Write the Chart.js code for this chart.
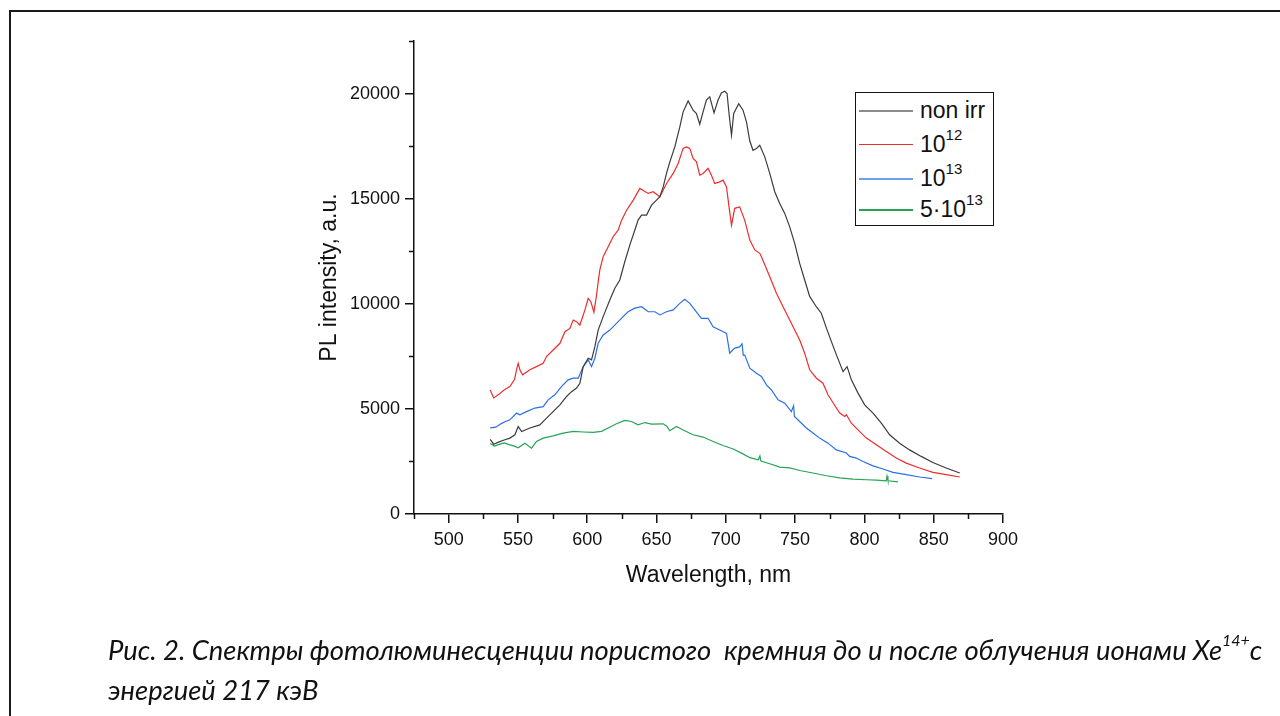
<!DOCTYPE html>
<html lang="ru">
<head>
    <meta charset="UTF-8">
    <title>Спектры ФЛ пористого кремния</title>
    <script src="https://cdn.jsdelivr.net/npm/chart.js"></script>
    <style>
        html, body { margin: 0; padding: 0; background: #fff; overflow: hidden; }
        body { width: 1280px; height: 716px; position: relative; font-family: "Liberation Sans", Arial, sans-serif; }
        #frame { position: absolute; left: 9px; top: 10px; width: 1320px; height: 800px; border: 2px solid #1a1a1a; }
        #wrap { position: absolute; left: 0; top: 0; width: 1280px; height: 716px; }
        #legend { position: absolute; left: 855px; top: 92px; width: 137px; height: 132px; border: 1px solid #111; background: #fff; }
        .row { position: absolute; left: 0; height: 30px; width: 137px; }
        .row .ln { position: absolute; left: 3px; top: 15px; width: 54px; height: 2px; }
        .row .tx { position: absolute; left: 64px; top: 0; font-size: 23px; line-height: 30px; color: #111; white-space: nowrap; }
        .row sup { font-size: 15px; position: relative; top: -2px; vertical-align: top; line-height: 15px; }
        #caption { position: absolute; left: 108px; top: 630px; font-family: Lato, "Open Sans", sans-serif; font-style: italic; font-size: 27.4px; color: #111; line-height: 40px; white-space: nowrap; }
        #caption sup { font-size: 16px; vertical-align: top; line-height: 16px; position: relative; top: 2px; }
    </style>
</head>
<body>
    <div id="frame"></div>
    <div id="wrap"><canvas id="plChart" width="1280" height="716"></canvas></div>
    <div id="legend"></div>
    <div id="caption">
        <div>Рис. 2. Спектры фотолюминесценции пористого&nbsp; кремния до и после облучения ионами Xe<sup>14+</sup>с</div>
        <div>энергией 217 кэВ</div>
    </div>

    <script>
        // wavelength (nm) / intensity (a.u.)
        const wlNonIrr = [530, 532.5, 536, 540, 544.2, 547.8, 550.2, 552.7, 558.6, 565.8, 570.6, 575.4, 580.3, 585.1, 588.7, 592.3, 594.7, 597.1, 600.7, 603.1, 605.5, 607.9, 611.5, 616.3, 619.9, 623.5, 627.1, 630.7, 634.3, 636.7, 639.2, 642.8, 646.4, 650.0, 652.4, 654.8, 657.2, 659.6, 663.2, 666.8, 669.2, 672.8, 676.4, 678.8, 681.2, 683.6, 686.0, 688.4, 691.5, 694.4, 696.8, 699.2, 700.9, 702.3, 704.1, 705.7, 709.3, 712.4, 714.9, 717.3, 719.6, 722.1, 724.5, 728.1, 731.7, 735.3, 738.9, 742.5, 746.1, 749.7, 753.3, 756.9, 760.5, 765.3, 768.9, 772.6, 776.2, 779.8, 784.6, 787.5, 790.6, 795.4, 800.2, 806.2, 812.2, 818.2, 825.4, 832.6, 841.0, 849.4, 859.0, 868.8];
        const intNonIrr = [3550, 3320, 3420, 3520, 3610, 3770, 4160, 3920, 4090, 4240, 4560, 4870, 5190, 5590, 5820, 5990, 6220, 7010, 7410, 7330, 7960, 8750, 9390, 10180, 10740, 11130, 12000, 12790, 13500, 13980, 14220, 14220, 14690, 14930, 15090, 15560, 16200, 16750, 17460, 18410, 19130, 19650, 19210, 19050, 18540, 19130, 19690, 19840, 19080, 19690, 20030, 20110, 20000, 19050, 18020, 19050, 19520, 19210, 18650, 17740, 17300, 17390, 17540, 16990, 16200, 15330, 14770, 14300, 13660, 12870, 11920, 11130, 10350, 9860, 9550, 8840, 8200, 7570, 6770, 7010, 6380, 5750, 5190, 4800, 4320, 3770, 3370, 3050, 2740, 2450, 2190, 1950];

        const wl1e12 = [530, 532.5, 536, 540, 544.2, 547.5, 549.3, 550.2, 551.4, 553.4, 558.6, 563, 568.2, 570.6, 575.4, 580.3, 583.9, 587.5, 589.9, 592.3, 594.7, 598.3, 600.7, 602.6, 604.8, 606.7, 608, 609.1, 611.5, 615.1, 618.7, 622.3, 624.8, 628.4, 633.2, 638.0, 644.0, 647.6, 652.4, 657.2, 662.0, 665.6, 669.2, 671.6, 674.0, 676.4, 678.8, 681.2, 683.6, 687.2, 689.6, 692.0, 695.6, 698.0, 700.5, 702.3, 704.1, 706.4, 710.0, 713.6, 717.3, 720.9, 724.5, 725.7, 731.7, 736.5, 741.3, 746.1, 749.7, 753.3, 756.9, 760.5, 765.4, 770.1, 773.7, 779.8, 782.2, 785.8, 787.0, 790.6, 795.4, 801.4, 808.6, 815.8, 823.0, 830.2, 839.8, 849.4, 859.0, 868.8];
        const int1e12 = [5900, 5520, 5680, 5900, 6060, 6400, 6950, 7170, 6860, 6620, 6860, 7000, 7170, 7490, 7800, 8120, 8670, 8830, 9230, 9150, 8990, 9700, 10260, 10100, 9600, 10400, 11100, 11610, 12240, 12710, 13190, 13500, 13980, 14450, 14930, 15490, 15250, 15330, 15090, 15720, 16200, 16670, 17390, 17460, 17390, 16910, 16750, 16120, 16200, 16440, 16120, 15720, 15800, 15880, 15560, 14610, 13740, 14540, 14610, 13980, 13030, 12560, 12400, 12240, 11290, 10500, 9860, 9230, 8750, 8280, 7650, 6860, 6460, 6220, 5670, 5040, 4800, 4640, 4720, 4320, 4000, 3610, 3290, 2970, 2660, 2420, 2190, 1980, 1870, 1760];

        const wl1e13 = [530, 534, 538, 541, 544.2, 549.0, 551.4, 556.2, 562.2, 568.2, 571.8, 576.6, 581.4, 586.2, 589.9, 593.5, 597.1, 600.7, 603.1, 605.5, 607.9, 611.5, 616.3, 621.1, 625.9, 629.5, 634.3, 639.2, 644.0, 648.8, 652.4, 657.2, 662.0, 666.8, 670.4, 674.0, 677.6, 682.4, 687.2, 690.8, 695.6, 700.5, 702.8, 706.4, 710.0, 711.7, 712.6, 713.6, 717.3, 722.1, 725.7, 729.3, 732.9, 737.7, 742.5, 747.3, 748.9, 749.5, 753.3, 758.1, 762.9, 767.7, 773.7, 779.8, 787.0, 789.4, 794.2, 799.0, 806.2, 813.4, 820.6, 830.2, 839.8, 848.7];
        const int1e13 = [4100, 4130, 4300, 4400, 4480, 4800, 4720, 4870, 5040, 5110, 5430, 5670, 6060, 6380, 6460, 6460, 7010, 7330, 7010, 7410, 8120, 8520, 8750, 9070, 9390, 9620, 9790, 9860, 9620, 9620, 9470, 9620, 9710, 10020, 10210, 10020, 9710, 9310, 9310, 8910, 8750, 8590, 7650, 7890, 7950, 8100, 7550, 7570, 6940, 6700, 6540, 6140, 5900, 5430, 5270, 4870, 5150, 4640, 4400, 4090, 3850, 3610, 3370, 3050, 2900, 2740, 2660, 2500, 2290, 2140, 1980, 1870, 1760, 1680];

        const wl5e13 = [530, 533, 536, 540, 544.2, 547, 550.2, 555.0, 559.8, 563.4, 568.2, 575.4, 582.6, 589.9, 597.1, 604.3, 610.3, 615.1, 621.1, 627.1, 631.9, 636.7, 641.6, 646.4, 654.8, 657.2, 659.6, 664.4, 669.2, 676.4, 683.6, 690.8, 698.0, 705.3, 712.4, 717.3, 723.3, 724.6, 725.3, 731.7, 738.9, 746.1, 753.3, 762.9, 772.6, 782.2, 791.8, 801.4, 808.6, 815.8, 816.3, 817.0, 824.2];
        const int5e13 = [3350, 3230, 3300, 3380, 3290, 3240, 3150, 3370, 3130, 3450, 3610, 3720, 3850, 3930, 3900, 3880, 3930, 4090, 4290, 4450, 4400, 4240, 4350, 4280, 4290, 4190, 3960, 4160, 4000, 3770, 3660, 3450, 3260, 3090, 2860, 2680, 2580, 2760, 2520, 2390, 2230, 2190, 2070, 1950, 1820, 1720, 1660, 1630, 1610, 1580, 1800, 1580, 1530];

        const seriesLabels = ["non irr", "10<sup>12</sup>", "10<sup>13</sup>", "5·10<sup>13</sup>"];
        const seriesColors = ["#3c3c3c", "#ee2c2c", "#2a6fe2", "#27a356"];
        const legendColors = ["#8c8c8c", "#ee2c2c", "#6aa0ee", "#27a356"];
        const xTicks = [500, 550, 600, 650, 700, 750, 800, 850, 900];
        const yTicks = [0, 5000, 10000, 15000, 20000];
        const xMinor = [475, 525, 575, 625, 675, 725, 775, 825, 875];
        const yMinor = [2500, 7500, 12500, 17500, 22500];

        function zip(xs, ys) {
            return xs.map((x, i) => ({ x: x, y: ys[i] }));
        }

        const allSeries = [
            zip(wlNonIrr, intNonIrr),
            zip(wl1e12, int1e12),
            zip(wl1e13, int1e13),
            zip(wl5e13, int5e13)
        ];

        // legend as html so the superscripts are real text
        const legend = document.getElementById("legend");
        const rowTops = [2, 36, 70, 101];
        seriesLabels.forEach((lab, i) => {
            const row = document.createElement("div");
            row.className = "row";
            row.style.top = rowTops[i] + "px";
            const ln = document.createElement("div");
            ln.className = "ln";
            ln.style.backgroundColor = legendColors[i];
            ln.style.height = (i === 1) ? "1px" : "2px";
            const tx = document.createElement("div");
            tx.className = "tx";
            tx.innerHTML = lab;
            row.appendChild(ln);
            row.appendChild(tx);
            legend.appendChild(row);
        });

        // small outward minor ticks, Origin style
        const minorTicks = {
            id: "minorTicks",
            afterDraw(chart) {
                const ctx = chart.ctx;
                const xs = chart.scales.x, ys = chart.scales.y;
                const area = chart.chartArea;
                ctx.save();
                ctx.strokeStyle = "#111";
                ctx.lineWidth = 1.5;
                ctx.beginPath();
                xMinor.forEach(v => {
                    const px = Math.round(xs.getPixelForValue(v)) + 0.5;
                    ctx.moveTo(px, area.bottom);
                    ctx.lineTo(px, area.bottom + 5);
                });
                yMinor.forEach(v => {
                    const py = Math.round(ys.getPixelForValue(v)) + 0.5;
                    ctx.moveTo(area.left, py);
                    ctx.lineTo(area.left - 5, py);
                });
                ctx.stroke();
                ctx.restore();
            }
        };

        const ctx = document.getElementById("plChart").getContext("2d");
        new Chart(ctx, {
            type: "line",
            data: {
                datasets: allSeries.map((d, i) => ({
                    label: seriesLabels[i],
                    data: d,
                    borderColor: seriesColors[i],
                    borderWidth: 1.2,
                    pointRadius: 0,
                    fill: false,
                    tension: 0
                }))
            },
            options: {
                responsive: false,
                animation: false,
                devicePixelRatio: 1,
                layout: { padding: { left: 306, right: 277, top: 41, bottom: 122 } },
                plugins: { legend: { display: false }, tooltip: { enabled: false } },
                scales: {
                    x: {
                        type: "linear",
                        min: 475,
                        max: 900,
                        afterBuildTicks: s => { s.ticks = xTicks.map(v => ({ value: v })); },
                        afterFit: s => { s.height = 80; },
                        grid: { display: true, drawOnChartArea: false, drawTicks: true, tickLength: 9, color: "#111", lineWidth: 1.5 },
                        border: { display: true, color: "#111", width: 1.5 },
                        ticks: { color: "#111", font: { family: "Liberation Sans", size: 18 }, padding: 6, maxRotation: 0 },
                        title: { display: true, text: "Wavelength, nm", color: "#111", font: { family: "Liberation Sans", size: 23 }, padding: { top: 0, bottom: 5 } }
                    },
                    y: {
                        type: "linear",
                        min: 0,
                        max: 22500,
                        afterBuildTicks: s => { s.ticks = yTicks.map(v => ({ value: v })); },
                        afterFit: s => { s.width = 108; },
                        grid: { display: true, drawOnChartArea: false, drawTicks: true, tickLength: 9, color: "#111", lineWidth: 1.5 },
                        border: { display: true, color: "#111", width: 1.5 },
                        ticks: { color: "#111", font: { family: "Liberation Sans", size: 18 }, padding: 5, callback: v => String(v) },
                        title: { display: true, text: "PL intensity, a.u.", color: "#111", font: { family: "Liberation Sans", size: 23 }, padding: { top: 10, bottom: 0 } }
                    }
                }
            },
            plugins: [minorTicks]
        });
    </script>
</body>
</html>
